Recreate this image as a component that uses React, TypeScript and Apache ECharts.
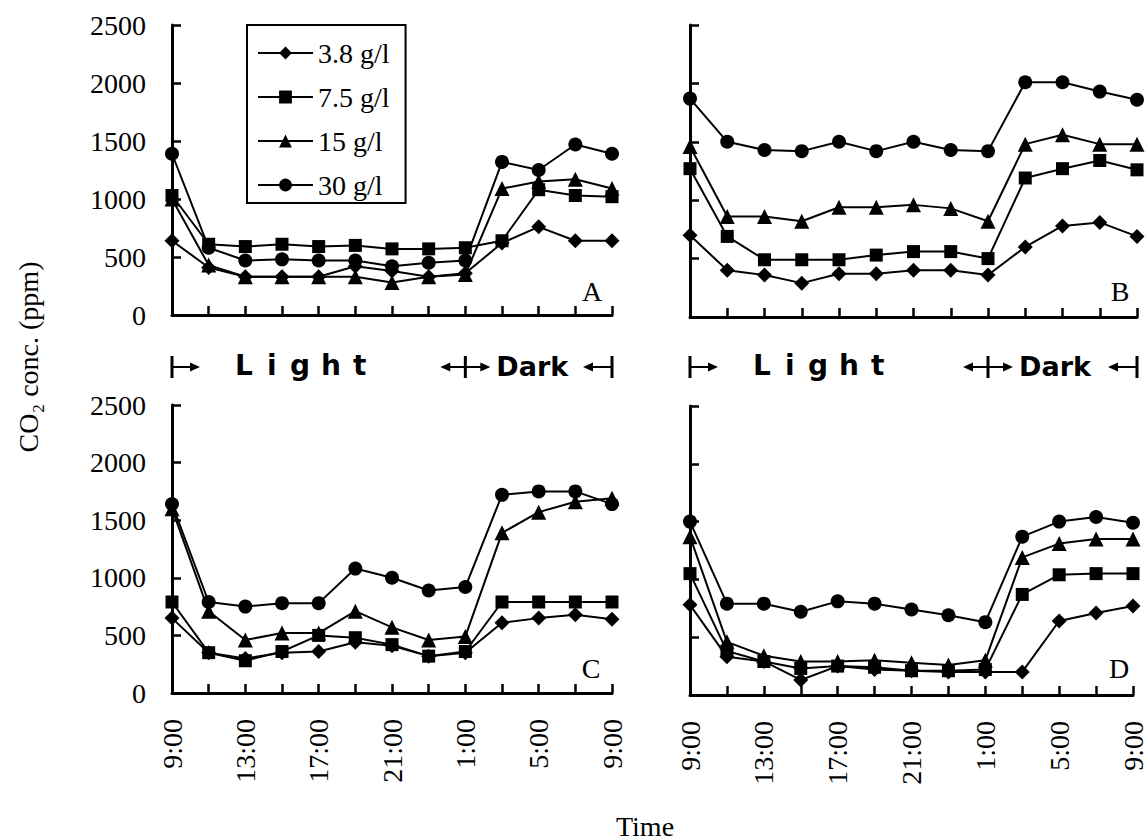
import React, { useEffect, useRef } from "react";
import * as echarts from "echarts";

// ---- data ----
const times = ["9:00", "11:00", "13:00", "15:00", "17:00", "19:00", "21:00", "23:00", "1:00", "3:00", "5:00", "7:00", "9:00"];
const concNames = ["3.8 g/l", "7.5 g/l", "15 g/l", "30 g/l"];
const concSymbols = ["diamond", "rect", "triangle", "circle"];
const yTickMax = 2500;
const yTickStep = 500;
const panelLetters = ["A", "B", "C", "D"];

// Panel A
const a38 = [640, 410, 330, 330, 330, 420, 380, 330, 360, 620, 760, 640, 640];
const a75 = [1030, 610, 590, 610, 590, 600, 570, 570, 580, 640, 1080, 1030, 1020];
const a15 = [1000, 430, 330, 330, 330, 330, 280, 330, 350, 1090, 1150, 1170, 1090];
const a30 = [1390, 580, 470, 480, 470, 470, 420, 450, 470, 1320, 1250, 1470, 1390];
// Panel B
const b38 = [700, 400, 360, 290, 370, 370, 400, 400, 360, 600, 780, 810, 690];
const b75 = [1270, 690, 490, 490, 490, 530, 560, 560, 500, 1190, 1270, 1340, 1260];
const b15 = [1460, 860, 860, 820, 940, 940, 960, 930, 820, 1480, 1560, 1480, 1480];
const b30 = [1870, 1500, 1430, 1420, 1500, 1420, 1500, 1430, 1420, 2010, 2010, 1930, 1860];
// Panel C
const c38 = [650, 350, 300, 350, 360, 440, 410, 320, 350, 610, 650, 680, 640];
const c75 = [790, 350, 280, 360, 500, 480, 420, 320, 360, 790, 790, 790, 790];
const c15 = [1600, 710, 460, 520, 520, 710, 570, 460, 490, 1390, 1570, 1660, 1690];
const c30 = [1640, 790, 750, 780, 780, 1080, 1000, 890, 920, 1720, 1750, 1750, 1640];
// Panel D
const d38 = [780, 330, 290, 130, 250, 220, 210, 200, 200, 200, 640, 710, 770];
const d75 = [1050, 380, 290, 230, 250, 240, 210, 210, 220, 870, 1040, 1050, 1050];
const d15 = [1370, 460, 340, 290, 290, 300, 280, 260, 300, 1190, 1310, 1350, 1350];
const d30 = [1500, 790, 790, 720, 810, 790, 740, 690, 630, 1370, 1500, 1540, 1490];

const panels = [
  [a38, a75, a15, a30],
  [b38, b75, b15, b30],
  [c38, c75, c15, c30],
  [d38, d75, d15, d30],
];

// ---- layout ----
const grids = [
  { left: 172, top: 25, width: 440, height: 290 },
  { left: 690, top: 25, width: 447, height: 292 },
  { left: 172, top: 405, width: 440, height: 288 },
  { left: 690, top: 406, width: 447, height: 289 },
];
const symbolSizes = [15, 13, 15, 14];
const SERIF = "'Liberation Serif', 'Times New Roman', serif";
const SANS = "'DejaVu Sans', sans-serif";

function annotationRow(x0: number, xm: number, x1: number) {
  const yc = 367;
  const stroke = { stroke: "#000", lineWidth: 3 };
  const thin = { stroke: "#000", lineWidth: 2 };
  const head = (tip: number, dir: number) => ({
    type: "polygon",
    shape: { points: [[tip, yc], [tip - dir * 10, yc - 4.5], [tip - dir * 10, yc + 4.5]] },
    style: { fill: "#000" },
  });
  const letters = ["L", "i", "g", "h", "t"];
  const offs = [63, 95, 118, 149, 181];
  const els: any[] = [
    { type: "line", shape: { x1: x0, y1: yc - 11, x2: x0, y2: yc + 11 }, style: stroke },
    { type: "line", shape: { x1: x0, y1: yc, x2: x0 + 20, y2: yc }, style: thin },
    head(x0 + 28, 1),
    { type: "line", shape: { x1: xm, y1: yc - 11, x2: xm, y2: yc + 11 }, style: stroke },
    { type: "line", shape: { x1: xm - 18, y1: yc, x2: xm + 18, y2: yc }, style: thin },
    head(xm - 25, -1),
    head(xm + 25, 1),
    {
      type: "text",
      x: xm + 31,
      y: yc - 1,
      style: { text: "Dark", fill: "#000", font: `bold 27px ${SANS}`, textAlign: "left", textVerticalAlign: "middle" },
    },
    head(x1 - 29, -1),
    { type: "line", shape: { x1: x1 - 21, y1: yc, x2: x1, y2: yc }, style: thin },
    { type: "line", shape: { x1: x1, y1: yc - 11, x2: x1, y2: yc + 11 }, style: stroke },
  ];
  letters.forEach((ch, i) => {
    els.push({
      type: "text",
      x: x0 + offs[i],
      y: yc - 2,
      style: { text: ch, fill: "#000", font: `bold 28px ${SANS}`, textAlign: "left", textVerticalAlign: "middle" },
    });
  });
  return els;
}

export default function App() {
  const ref = useRef<HTMLDivElement>(null);

  useEffect(() => {
    if (!ref.current) return;
    const chart = echarts.init(ref.current, undefined, { renderer: "svg" });

    const xAxes = grids.map((_, i) => ({
      type: "category",
      gridIndex: i,
      data: times,
      boundaryGap: false,
      axisLine: { show: true, onZero: false, lineStyle: { color: "#000", width: 3 } },
      axisTick: { show: true, inside: true, length: 9, interval: 0, lineStyle: { color: "#000", width: 2.5 } },
      axisLabel: {
        show: i >= 2,
        interval: 1,
        rotate: 90,
        margin: 26,
        color: "#000",
        fontSize: 28,
        fontFamily: SERIF,
      },
      splitLine: { show: false },
    }));

    const yAxes = grids.map((_, i) => ({
      type: "value",
      gridIndex: i,
      min: 0,
      max: yTickMax,
      interval: yTickStep,
      axisLine: { show: true, lineStyle: { color: "#000", width: 3 } },
      axisTick: { show: true, inside: true, length: 9, lineStyle: { color: "#000", width: 2.5 } },
      axisLabel: {
        show: i % 2 === 0,
        margin: 26,
        color: "#000",
        fontSize: 28,
        fontFamily: SERIF,
        formatter: (v: number) => String(v),
      },
      splitLine: { show: false },
    }));

    const series: any[] = [];
    panels.forEach((p, pi) => {
      p.forEach((vals, ci) => {
        series.push({
          type: "line",
          name: concNames[ci],
          xAxisIndex: pi,
          yAxisIndex: pi,
          data: vals,
          symbol: concSymbols[ci],
          symbolSize: symbolSizes[ci],
          showSymbol: true,
          itemStyle: { color: "#000", borderWidth: 0 },
          lineStyle: { color: "#000", width: 2 },
          emphasis: { disabled: true },
          z: 2 + ci,
        });
      });
    });

    const letterPos = [
      [592, 291],
      [1120, 291],
      [591, 668],
      [1119, 668],
    ];

    const graphic: any[] = [
      ...annotationRow(172, 172 + (8 * 440) / 12, 612),
      ...annotationRow(690, 690 + (8 * 447) / 12, 1137),
      ...panelLetters.map((t, i) => ({
        type: "text",
        x: letterPos[i][0],
        y: letterPos[i][1],
        style: { text: t, fill: "#000", font: `28px ${SERIF}`, textAlign: "center", textVerticalAlign: "middle" },
      })),
      {
        type: "text",
        x: 28,
        y: 357,
        rotation: Math.PI / 2,
        style: { text: "CO₂ conc. (ppm)", fill: "#000", font: `28px ${SERIF}`, textAlign: "center", textVerticalAlign: "middle" },
      },
      {
        type: "text",
        x: 645,
        y: 826,
        style: { text: "Time", fill: "#000", font: `28px ${SERIF}`, textAlign: "center", textVerticalAlign: "middle" },
      },
    ];

    chart.setOption({
      animation: false,
      backgroundColor: "#fff",
      grid: grids.map((g) => ({ ...g, containLabel: false })),
      xAxis: xAxes,
      yAxis: yAxes,
      legend: {
        show: true,
        orient: "vertical",
        left: 247,
        top: 25,
        data: concNames,
        itemWidth: 55,
        itemHeight: 16,
        itemGap: 16,
        padding: [14, 16, 4, 10],
        borderColor: "#000",
        borderWidth: 2,
        backgroundColor: "#fff",
        selectedMode: false,
        textStyle: { color: "#000", fontSize: 28, fontFamily: SERIF },
      },
      series,
      graphic,
    });

    return () => chart.dispose();
  }, []);

  return (
    <div
      ref={ref}
      style={{ position: "fixed", left: 0, top: 0, width: 1147, height: 840, background: "#fff" }}
    />
  );
}
